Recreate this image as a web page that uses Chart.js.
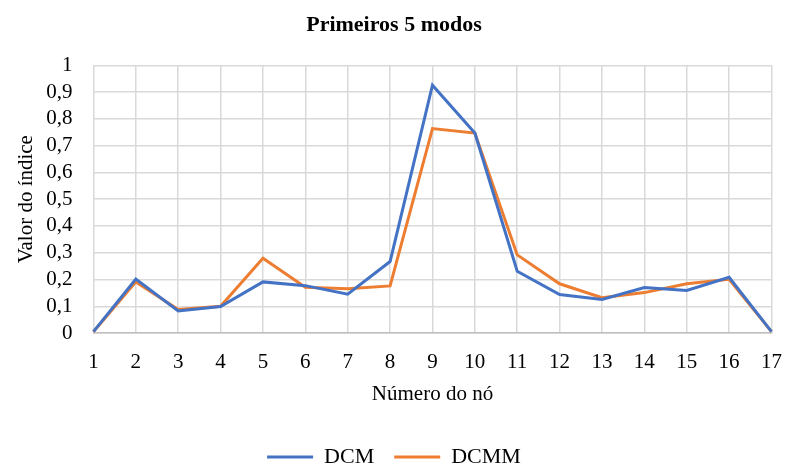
<!DOCTYPE html>
<html>
<head>
<meta charset="utf-8">
<script src="https://cdn.jsdelivr.net/npm/chart.js@4"></script>
<style>
  body { margin: 0; background: #fff; }
  #wrap { width: 787px; height: 467px; }
</style>
</head>
<body>
<div id="wrap"><canvas id="myChart"></canvas></div>
<script>
// data
const nodes = ["1","2","3","4","5","6","7","8","9","10","11","12","13","14","15","16","17"];
const dcm = [0.005, 0.202, 0.082, 0.099, 0.191, 0.177, 0.145, 0.267, 0.926, 0.747, 0.231, 0.144, 0.125, 0.170, 0.159, 0.208, 0.005];
const dcmm = [0.005, 0.191, 0.088, 0.100, 0.279, 0.171, 0.165, 0.176, 0.764, 0.747, 0.292, 0.184, 0.132, 0.151, 0.184, 0.201, 0.005];

const serif = "'Liberation Serif', 'Times New Roman', serif";
Chart.defaults.font.family = serif;
Chart.defaults.color = "#000";

const ctx = document.getElementById("myChart").getContext("2d");
const myChart = new Chart(ctx, {
  type: "line",
  data: {
    labels: nodes,
    datasets: [
      { label: "DCM", data: dcm, borderColor: "#4472C4", backgroundColor: "#4472C4", borderWidth: 3, pointRadius: 0, tension: 0 },
      { label: "DCMM", data: dcmm, borderColor: "#ED7D31", backgroundColor: "#ED7D31", borderWidth: 3, pointRadius: 0, tension: 0 },
    ],
  },
  options: {
    responsive: true,
    maintainAspectRatio: false,
    animation: false,
    layout: { padding: { left: 2, right: 1, top: 10, bottom: -11 } },
    plugins: {
      title: {
        display: true,
        text: "Primeiros 5 modos",
        font: { size: 22, weight: "bold", family: serif },
        padding: { top: 2, bottom: 27 },
      },
      legend: {
        position: "bottom",
        labels: {
          usePointStyle: true,
          pointStyle: "line",
          pointStyleWidth: 46,
          font: { size: 22 },
          padding: 20,
          boxHeight: 10,
        },
      },
      tooltip: { enabled: false },
    },
    scales: {
      x: {
        offset: false,
        grid: { color: "#d9d9d9", lineWidth: 1.5, drawTicks: false },
        border: { color: "#bfbfbf", width: 1.5 },
        ticks: { font: { size: 21, lineHeight: 2.333 }, maxRotation: 0, padding: 5 },
        title: { display: true, text: "Número do nó", font: { size: 21, lineHeight: 0.333 }, padding: { top: -1, bottom: 28 } },
      },
      y: {
        min: 0,
        max: 1,
        grid: { color: "#d9d9d9", lineWidth: 1.5, drawTicks: false },
        border: { display: false },
        ticks: {
          stepSize: 0.1,
          autoSkip: false,
          font: { size: 21 },
          padding: 21,
          callback: (v) => (Math.round(v * 10) / 10).toString().replace(".", ","),
        },
        title: { display: true, text: "Valor do índice", font: { size: 21 }, padding: { top: 12, bottom: -14 } },
      },
    },
  },
});
</script>
</body>
</html>
